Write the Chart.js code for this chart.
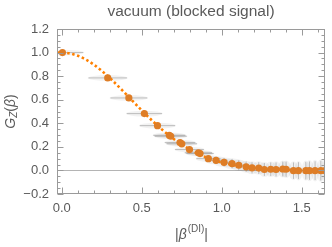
<!DOCTYPE html>
<html>
<head>
<meta charset="utf-8">
<script src="https://cdn.jsdelivr.net/npm/chart.js@4"></script>
<style>
  html, body { margin: 0; padding: 0; background: #fff; }
  #c { display: block; }
</style>
</head>
<body>
<canvas id="c" width="332" height="247"></canvas>
<script>
// measured points  |beta| vs G_Z
const ptX = [0.004, 0.287, 0.419, 0.516, 0.598, 0.672, 0.681, 0.739, 0.750, 0.798, 0.854, 0.864,
  0.916, 0.964, 1.014, 1.064, 1.106, 1.152, 1.189, 1.231, 1.266, 1.306, 1.339, 1.381, 1.402,
  1.448, 1.479, 1.525, 1.548, 1.583, 1.619, 1.646];
const ptY = [1.000, 0.785, 0.615, 0.482, 0.380, 0.298, 0.290, 0.236, 0.226, 0.177, 0.150, 0.143,
  0.100, 0.086, 0.069, 0.058, 0.044, 0.031, 0.022, 0.020, 0.008, 0.010, 0.008, 0.012, 0.010,
  -0.002, -0.002, -0.002, -0.002, -0.002, -0.002, -0.002];
const errX = [0.13, 0.12, 0.115, 0.11, 0.11, 0.10, 0.10, 0.095, 0.095, 0.09, 0.085, 0.085,
  0.075, 0.07, 0.065, 0.06, 0.05, 0.045, 0.04, 0.04, 0.035, 0.035, 0.03, 0.03, 0.03,
  0.03, 0.025, 0.025, 0.025, 0.025, 0.025, 0.025];
const errY = [0.004, 0.005, 0.006, 0.007, 0.008, 0.010, 0.010, 0.012, 0.012, 0.015, 0.020, 0.020,
  0.025, 0.030, 0.035, 0.040, 0.042, 0.045, 0.048, 0.050, 0.055, 0.058, 0.060, 0.063, 0.065,
  0.070, 0.072, 0.075, 0.078, 0.080, 0.085, 0.088];

// theory curve (dotted)
const curveX = [-0.03, 0.0, 0.1, 0.2, 0.3, 0.4, 0.5, 0.6, 0.7, 0.8, 0.9, 1.0, 1.1, 1.2, 1.3, 1.4, 1.5, 1.65];
const curveY = [1.0, 1.0, 0.973, 0.898, 0.784, 0.649, 0.509, 0.378, 0.266, 0.178, 0.112, 0.067,
  0.038, 0.020, 0.010, 0.005, 0.002, 0.001];

// ticks
const xTicks = [0.0, 0.5, 1.0, 1.5];
const yTicks = [-0.2, 0.0, 0.2, 0.4, 0.6, 0.8, 1.0, 1.2];
const xMinorStep = 0.1;
const yMinorStep = 0.05;

const FONT = "'Liberation Sans', Arial, sans-serif";
const TXT = '#5a5a5a';
const FRAME = '#9a9a9a';

function fmt(v) {
  return v.toFixed(1).replace('-', '\u2212');
}

/*******************************************************
 * error bars + shading, drawn under the points
 *******************************************************/
const errorPlugin = {
  id: 'errs',
  beforeDatasetsDraw(chart) {
    const { ctx, chartArea: a, scales: { x, y } } = chart;
    ctx.save();
    ctx.beginPath();
    ctx.rect(a.left, a.top, a.right - a.left, a.bottom - a.top);
    ctx.clip();

    // zero line
    ctx.strokeStyle = '#b4b4b4';
    ctx.lineWidth = 1;
    const y0 = Math.round(y.getPixelForValue(0)) + 0.5;
    ctx.beginPath();
    ctx.moveTo(a.left, y0);
    ctx.lineTo(a.right, y0);
    ctx.stroke();

    // soft shading
    ctx.fillStyle = 'rgba(0,0,0,0.05)';
    for (let i = 0; i < ptX.length; i++) {
      const cx = x.getPixelForValue(ptX[i]);
      const cy = y.getPixelForValue(ptY[i]);
      const rx = Math.max(x.getPixelForValue(ptX[i] + errX[i]) - cx, 4);
      const ry = Math.max(cy - y.getPixelForValue(ptY[i] + errY[i]), 2.5);
      ctx.beginPath();
      ctx.ellipse(cx, cy, rx * 1.05, ry * 1.15, 0, 0, Math.PI * 2);
      ctx.fill();
    }

    // bars
    ctx.strokeStyle = 'rgba(120,120,120,0.45)';
    ctx.lineWidth = 1;
    for (let i = 0; i < ptX.length; i++) {
      const cx = x.getPixelForValue(ptX[i]);
      const cy = y.getPixelForValue(ptY[i]);
      ctx.beginPath();
      ctx.moveTo(x.getPixelForValue(ptX[i] - errX[i]), cy);
      ctx.lineTo(x.getPixelForValue(ptX[i] + errX[i]), cy);
      ctx.moveTo(cx, y.getPixelForValue(ptY[i] - errY[i]));
      ctx.lineTo(cx, y.getPixelForValue(ptY[i] + errY[i]));
      ctx.stroke();
    }
    ctx.restore();
  }
};

/*******************************************************
 * frame, inward ticks, title and axis labels
 *******************************************************/
const framePlugin = {
  id: 'frame',
  afterDatasetsDraw(chart) {
    const { ctx, chartArea: a, scales: { x, y } } = chart;
    ctx.save();
    ctx.strokeStyle = FRAME;
    ctx.lineWidth = 1;
    const L = Math.round(a.left) + 0.5, R = Math.round(a.right) - 0.5;
    const T = Math.round(a.top) + 0.5, B = Math.round(a.bottom) - 0.5;
    ctx.strokeRect(L, T, R - L, B - T);

    ctx.beginPath();
    // x ticks (bottom + top)
    for (let k = -1; k <= 17; k++) {
      const v = k * xMinorStep;
      if (v < x.min || v > x.max) continue;
      const px = Math.round(x.getPixelForValue(v)) + 0.5;
      const major = k % 5 === 0;
      const len = major ? 6 : 3;
      ctx.moveTo(px, B); ctx.lineTo(px, B - len);
      ctx.moveTo(px, T); ctx.lineTo(px, T + len);
    }
    // y ticks (left + right)
    for (let k = -4; k <= 24; k++) {
      const v = k * yMinorStep;
      if (v < y.min - 1e-9 || v > y.max + 1e-9) continue;
      const py = Math.round(y.getPixelForValue(v)) + 0.5;
      const major = k % 4 === 0;
      const len = major ? 6 : 3;
      ctx.moveTo(L, py); ctx.lineTo(L + len, py);
      ctx.moveTo(R, py); ctx.lineTo(R - len, py);
    }
    ctx.stroke();

    const cx = (a.left + a.right) / 2;
    const cy = (a.top + a.bottom) / 2;
    ctx.fillStyle = TXT;
    ctx.textBaseline = 'middle';

    // title
    ctx.font = `15.5px ${FONT}`;
    ctx.textAlign = 'center';
    ctx.fillText('vacuum (blocked signal)', cx, 12);

    // x label  |β^(DI)|
    ctx.textAlign = 'left';
    const fMain = `14px ${FONT}`, fIt = `italic 14px ${FONT}`, fSup = `10px ${FONT}`;
    const parts = [['|', fMain, 0], ['\u03b2', fIt, 0], ['(DI)', fSup, -6], ['|', fMain, 0]];
    let w = 0;
    parts.forEach(p => { ctx.font = p[1]; w += ctx.measureText(p[0]).width; });
    let px = cx - w / 2;
    parts.forEach(p => {
      ctx.font = p[1];
      ctx.fillText(p[0], px, 235 + p[2]);
      px += ctx.measureText(p[0]).width + (p[0] === '\u03b2' ? 1 : 0);
    });

    // y label  G_Z(β), rotated
    ctx.translate(11, cy);
    ctx.rotate(-Math.PI / 2);
    const yparts = [['G', `italic 14px ${FONT}`, 0], ['Z', `italic 10px ${FONT}`, 3],
      ['(', fMain, 0], ['\u03b2', fIt, 0], [')', fMain, 0]];
    w = 0;
    yparts.forEach(p => { ctx.font = p[1]; w += ctx.measureText(p[0]).width; });
    px = -w / 2;
    yparts.forEach(p => {
      ctx.font = p[1];
      ctx.fillText(p[0], px, p[2]);
      px += ctx.measureText(p[0]).width;
    });
    ctx.restore();
  }
};

const ctx = document.getElementById('c').getContext('2d');
new Chart(ctx, {
  type: 'scatter',
  data: {
    datasets: [
      {
        label: 'data',
        data: ptX.map((v, i) => ({ x: v, y: ptY[i] })),
        backgroundColor: '#de7d26',
        borderWidth: 0,
        pointRadius: 3.6,
        order: 1
      },
      {
        label: 'theory',
        data: curveX.map((v, i) => ({ x: v, y: curveY[i] })),
        showLine: true,
        borderColor: '#ff8000',
        borderWidth: 2.6,
        borderDash: [2.5, 2.6],
        cubicInterpolationMode: 'monotone',
        pointRadius: 0,
        order: 2
      }
    ]
  },
  options: {
    responsive: false,
    devicePixelRatio: 1,
    animation: false,
    layout: { padding: { top: 29, right: 7, left: 0, bottom: 0 } },
    plugins: { legend: { display: false }, tooltip: { enabled: false }, title: { display: false } },
    scales: {
      x: {
        type: 'linear',
        min: -0.03,
        max: 1.645,
        grid: { display: false, drawTicks: false },
        border: { display: false },
        afterBuildTicks: s => { s.ticks = xTicks.map(v => ({ value: v })); },
        afterFit: s => { s.height = 53; },
        ticks: { padding: 7, color: TXT, font: { family: FONT, size: 13 }, callback: v => fmt(v), maxRotation: 0 }
      },
      y: {
        type: 'linear',
        min: -0.2,
        max: 1.2,
        grid: { display: false, drawTicks: false },
        border: { display: false },
        afterBuildTicks: s => { s.ticks = yTicks.map(v => ({ value: v })); },
        afterFit: s => { s.width = 57; },
        ticks: { padding: 8, color: TXT, font: { family: FONT, size: 13 }, callback: v => fmt(v) }
      }
    }
  },
  plugins: [errorPlugin, framePlugin]
});
</script>
</body>
</html>
